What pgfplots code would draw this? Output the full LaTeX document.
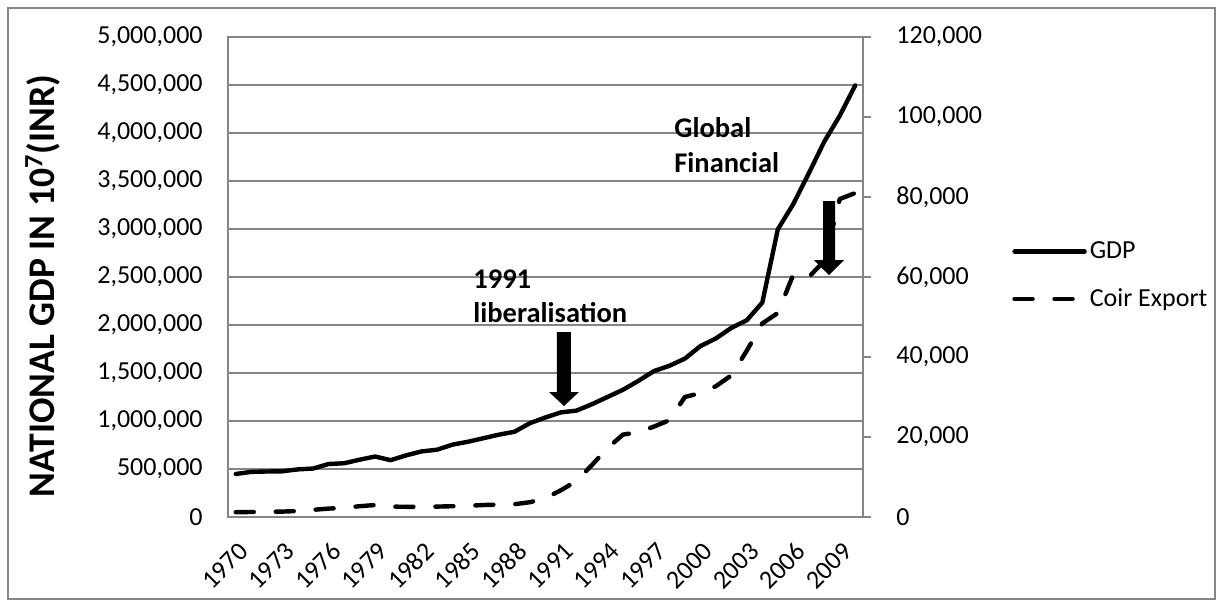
\documentclass[border=0pt]{standalone}
\usepackage{fontspec}
\setmainfont{Carlito}
\usepackage{pgfplots}
\pgfplotsset{compat=1.18}
\definecolor{gridgray}{RGB}{134,134,134}

\begin{document}
\begin{tikzpicture}
\tikzset{
  gdp/.style={black,line width=2.2pt,line join=round,line cap=round},
  coir/.style={black,line width=2.2pt,line join=round,line cap=round,dash pattern=on 9pt off 11pt},
}
\pgfplotsset{
  base/.style={
    width=317.5pt, height=240pt, scale only axis,
    xmin=1969.5, xmax=2010.5, ymin=0,
    axis line style={gridgray,line width=0.6pt},
    tick label style={font=\fontsize{13}{15}\selectfont},
    /pgf/number format/fixed,
    /pgf/number format/assume math mode=true,
    /pgf/number format/1000 sep={,},
    scaled y ticks=false,
  },
}

% GDP, left axis
\begin{axis}[base,
    ymax=5000000, ytick={0,500000,...,5000000},
    xtick={1970,1973,...,2009},
    xticklabels={1970,1973,1976,1979,1982,1985,1988,1991,1994,1997,2000,2003,2006,2009},
    ymajorgrids, major grid style={gridgray,line width=0.6pt},
    major tick length=0pt,
    yticklabel style={inner sep=0pt,xshift=-12.5pt},
    xticklabel style={inner sep=0pt,xshift=4pt,yshift=-15pt,rotate=45,anchor=east},
    ylabel={NATIONAL GDP IN 10\textsuperscript{7}(INR)},
    ylabel style={font=\bfseries\fontsize{18.8}{22}\selectfont,
      at={(axis description cs:-0.2913,0.481)},anchor=center},
  ]
\addplot[gdp] table {
1970 448000
1971 470000
1972 474000
1973 476000
1974 496000
1975 505000
1976 552000
1977 560000
1978 597000
1979 630000
1980 592000
1981 642000
1982 683000
1983 701000
1984 754000
1985 784000
1986 821000
1987 858000
1988 888000
1989 978000
1990 1037000
1991 1090000
1992 1108000
1993 1175000
1994 1250000
1995 1325000
1996 1418000
1997 1520000
1998 1575000
1999 1650000
2000 1780000
2001 1860000
2002 1970000
2003 2050000
2004 2234000
2005 2996000
2006 3260000
2007 3580000
2008 3910000
2009 4180000
2010 4496000
};
\end{axis}

% Coir export, right axis
\begin{axis}[base,
    ymax=120000, ytick={0,20000,...,120000},
    axis x line=none, axis y line*=right,
    tick align=outside, major tick length=4pt,
    ytick style={gridgray,line width=0.6pt},
    yticklabel style={inner sep=0pt,xshift=12.5pt},
    legend style={at={(axis description cs:1.2346,0.5031)},anchor=west,
      draw=none,fill=none,inner sep=0pt,row sep=10.5pt,
      font=\fontsize{13}{15}\selectfont,nodes={inner sep=1.5pt}},
    legend cell align=left,
    legend image code/.code={\draw[#1] (0pt,0pt) -- (35pt,0pt);},
  ]
\addlegendimage{gdp}
\addlegendentry{GDP}
\addplot[coir] table {
1970 1200
1971 1250
1972 1300
1973 1350
1974 1500
1975 1800
1976 2100
1977 2300
1978 2700
1979 3000
1980 2600
1981 2550
1982 2550
1983 2600
1984 2700
1985 2800
1986 3000
1987 3100
1988 3200
1989 3700
1990 4700
1991 6700
1992 9000
1993 13000
1994 17200
1995 20600
1996 21200
1997 22600
1998 24200
1999 30000
2000 31000
2001 32700
2002 35400
2003 41600
2004 48400
2005 51000
2006 60600
2007 60000
2008 64000
2009 79500
2010 81000
};
\addlegendentry{Coir Export}
\end{axis}

% annotations
\node[anchor=base west,inner sep=0pt,font=\bfseries\fontsize{14.25}{17}\selectfont] at (122.5pt,114.5pt) {1991};
\node[anchor=base west,inner sep=0pt,font=\bfseries\fontsize{14.25}{17}\selectfont] at (122.5pt,97.5pt) {liberalisation};
\node[anchor=base west,inner sep=0pt,font=\bfseries\fontsize{14.25}{17}\selectfont] at (223pt,189.75pt) {Global};
\node[anchor=base west,inner sep=0pt,font=\bfseries\fontsize{14.25}{17}\selectfont] at (223pt,172.15pt) {Financial};
\fill (164.5pt,92.5pt) -- (171.5pt,92.5pt) -- (171.5pt,62.5pt) -- (175.5pt,62.5pt)
  -- (168pt,55.5pt) -- (160.5pt,62.5pt) -- (164.5pt,62.5pt) -- cycle;
\fill (297.5pt,158pt) -- (303.5pt,158pt) -- (303.5pt,128.5pt) -- (308pt,128.5pt)
  -- (300.5pt,121pt) -- (293pt,128.5pt) -- (297.5pt,128.5pt) -- cycle;

% chart border
\draw[gridgray,line width=0.6pt] (-110pt,-41pt) rectangle (493.5pt,254.5pt);
\pgfresetboundingbox
\path[use as bounding box] (-114pt,-45pt) rectangle (497.5pt,258.5pt);
\end{tikzpicture}
\end{document}
